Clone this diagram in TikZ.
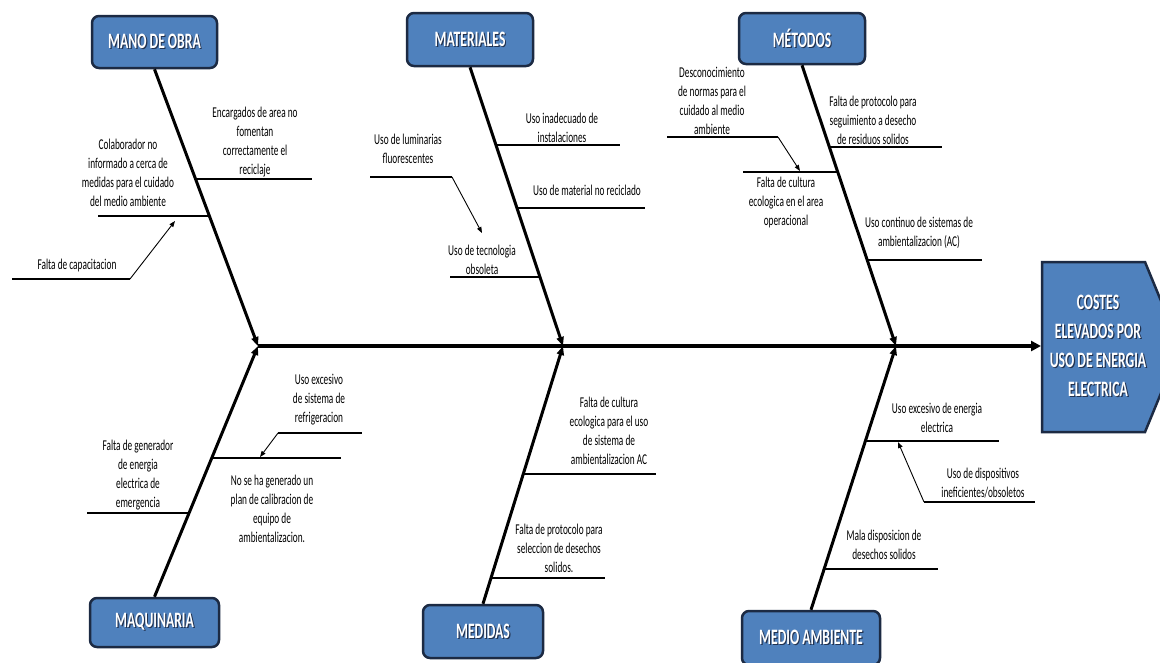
\documentclass[tikz,border=0pt]{standalone}
\usepackage{fontspec}
\setmainfont[FakeStretch=0.62]{Carlito}
\usetikzlibrary{arrows.meta}
\definecolor{boxblue}{HTML}{4F81BD}
\definecolor{boxline}{HTML}{1C2A43}
\definecolor{shadowc}{HTML}{22324F}
\newcommand\shtext[1]{\leavevmode\rlap{\kern1.2pt\raisebox{-1.2pt}{\textcolor{shadowc}{#1}}}#1}
\begin{document}
\begin{tikzpicture}[x=1pt,y=-1pt,
  cat/.style={draw=boxline, line width=2.5pt, fill=boxblue, rounded corners=7pt, text=white,
    font=\fontsize{22}{29}\selectfont\bfseries, inner sep=0pt},
  headbox/.style={draw=boxline, line width=2.5pt, fill=boxblue},
  headtxt/.style={text=white, align=center, inner sep=0pt, font=\fontsize{22}{29}\selectfont\bfseries},
  txt/.style={align=center, inner sep=0pt, font=\fontsize{15}{19}\selectfont, text=black},
  sub/.style={line width=1.3pt},
  bone/.style={line width=3pt, -{Triangle[length=9pt,width=7pt]}},
  spine/.style={line width=4.5pt, -{Triangle[length=10pt,width=10pt]}},
  thin/.style={line width=0.9pt, -{Triangle[length=6pt,width=4.5pt]}}]
\clip (0,0) rectangle (1160,662);
\fill[white] (0,0) rectangle (1160,662);

% head
\draw[headbox] (1042,262) -- (1145,262) -- (1180,347) -- (1145,432) -- (1042,432) -- cycle;
\node[headtxt] (head) at (1098,346) {\shtext{COSTES}\\\shtext{ELEVADOS POR}\\\shtext{USO DE ENERGIA}\\\shtext{ELECTRICA}};
\coordinate (headin) at (1041,346);

% category boxes
\node[cat, minimum width=125, minimum height=52] (mano) at (154.5,42) {\shtext{MANO DE OBRA}};
\node[cat, minimum width=126, minimum height=53] (mat) at (470,39.5) {\shtext{MATERIALES}};
\node[cat, minimum width=126, minimum height=51] (met) at (802,38.5) {\shtext{MÉTODOS}};
\node[cat, minimum width=129, minimum height=49] (maq) at (154.5,622.5) {\shtext{MAQUINARIA}};
\node[cat, minimum width=120, minimum height=53] (med) at (483,631.5) {\shtext{MEDIDAS}};
\node[cat, minimum width=138, minimum height=54] (amb) at (811,638) {\shtext{MEDIO AMBIENTE}};

% junctions
\coordinate (j1) at (258,346);
\coordinate (j2) at (563,346);
\coordinate (j3) at (896,346);

% spine and bones
\draw[spine] (j1) -- (headin);
\draw[bone] (mano.south) -- (j1);
\draw[bone] (maq.north) -- (j1);
\draw[bone] (mat.south) -- (j2);
\draw[bone] (med.north) -- (j2);
\draw[bone] (met.south) -- (j3);
\draw[bone] (amb.north) -- (j3);

% MANO DE OBRA
\node[txt] (t1) at (255,142) {Encargados de area no\\fomentan\\correctamente el\\reciclaje};
\draw[sub] (197,179) -- (312,179);
\node[txt] (t2) at (128,172.5) {Colaborador no\\informado a cerca de\\medidas para el cuidado\\del medio ambiente};
\draw[sub] (98,216) -- (209,216);
\node[txt] (t3) at (77,265) {Falta de capacitacion};
\coordinate (a3s) at (130,279);
\coordinate (a3e) at (175,221);
\draw[sub] (12,279) -- (a3s);
\draw[thin] (a3s) -- (a3e);

% MATERIALES
\node[txt] (t4) at (562,127.5) {Uso inadecuado de\\instalaciones};
\draw[sub] (496,145) -- (620,145);
\node[txt] (t5) at (587,190) {Uso de material no reciclado};
\draw[sub] (517,208) -- (645,208);
\node[txt] (t6) at (408,148.5) {Uso de luminarias\\fluorescentes};
\coordinate (a6s) at (452,177);
\coordinate (a6e) at (482,233);
\draw[sub] (370,177) -- (a6s);
\draw[thin] (a6s) -- (a6e);
\node[txt] (t7) at (482,259.5) {Uso de tecnologia\\obsoleta};
\draw[sub] (450,277) -- (540,277);

% METODOS
\node[txt] (t8) at (712,100.5) {Desconocimiento\\de normas para el\\cuidado al medio\\ambiente};
\coordinate (a8s) at (778,137);
\coordinate (a8e) at (800,171);
\draw[sub] (667,137) -- (a8s);
\draw[thin] (a8s) -- (a8e);
\draw[sub] (743,172) -- (837,172);
\node[txt] (t9) at (786,202) {Falta de cultura\\ecologica en el area\\operacional};
\node[txt] (t10) at (873,120) {Falta de protocolo para\\seguimiento a desecho\\de residuos solidos};
\draw[sub] (829,147) -- (942,147);
\node[txt] (t11) at (919,233) {Uso continuo de sistemas de\\ambientalizacion (AC)};
\draw[sub] (867,260) -- (982,260);

% MAQUINARIA
\node[txt] (t12) at (319,399.5) {Uso excesivo\\de sistema de\\refrigeracion};
\coordinate (a12s) at (278,433);
\coordinate (a12e) at (260,457);
\draw[sub] (a12s) -- (362,433);
\draw[thin] (a12s) -- (a12e);
\draw[sub] (211,458) -- (341,458);
\node[txt] (t13) at (272,508.5) {No se ha generado un\\plan de calibracion de\\equipo de\\ambientalizacion.};
\node[txt] (t14) at (138,475) {Falta de generador\\de energia\\electrica de\\emergencia};
\draw[sub] (87,513) -- (188,513);

% MEDIDAS
\node[txt] (t15) at (609,430.5) {Falta de cultura\\ecologica para el uso\\de sistema de\\ambientalizacion AC};
\draw[sub] (523,474) -- (656,474);
\node[txt] (t16) at (559,548.5) {Falta de protocolo para\\seleccion de desechos\\solidos.};
\draw[sub] (491,578) -- (605,578);

% MEDIO AMBIENTE
\node[txt] (t17) at (937,417.5) {Uso excesivo de energia\\electrica};
\draw[sub] (865,441) -- (999,441);
\node[txt] (t18) at (983,483) {Uso de dispositivos\\ineficientes/obsoletos};
\coordinate (a18s) at (924,502);
\coordinate (a18e) at (898,442);
\draw[sub] (a18s) -- (1035,502);
\draw[thin] (a18s) -- (a18e);
\node[txt] (t19) at (884,544.5) {Mala disposicion de\\desechos solidos};
\draw[sub] (824,569) -- (938,569);
\end{tikzpicture}
\end{document}
